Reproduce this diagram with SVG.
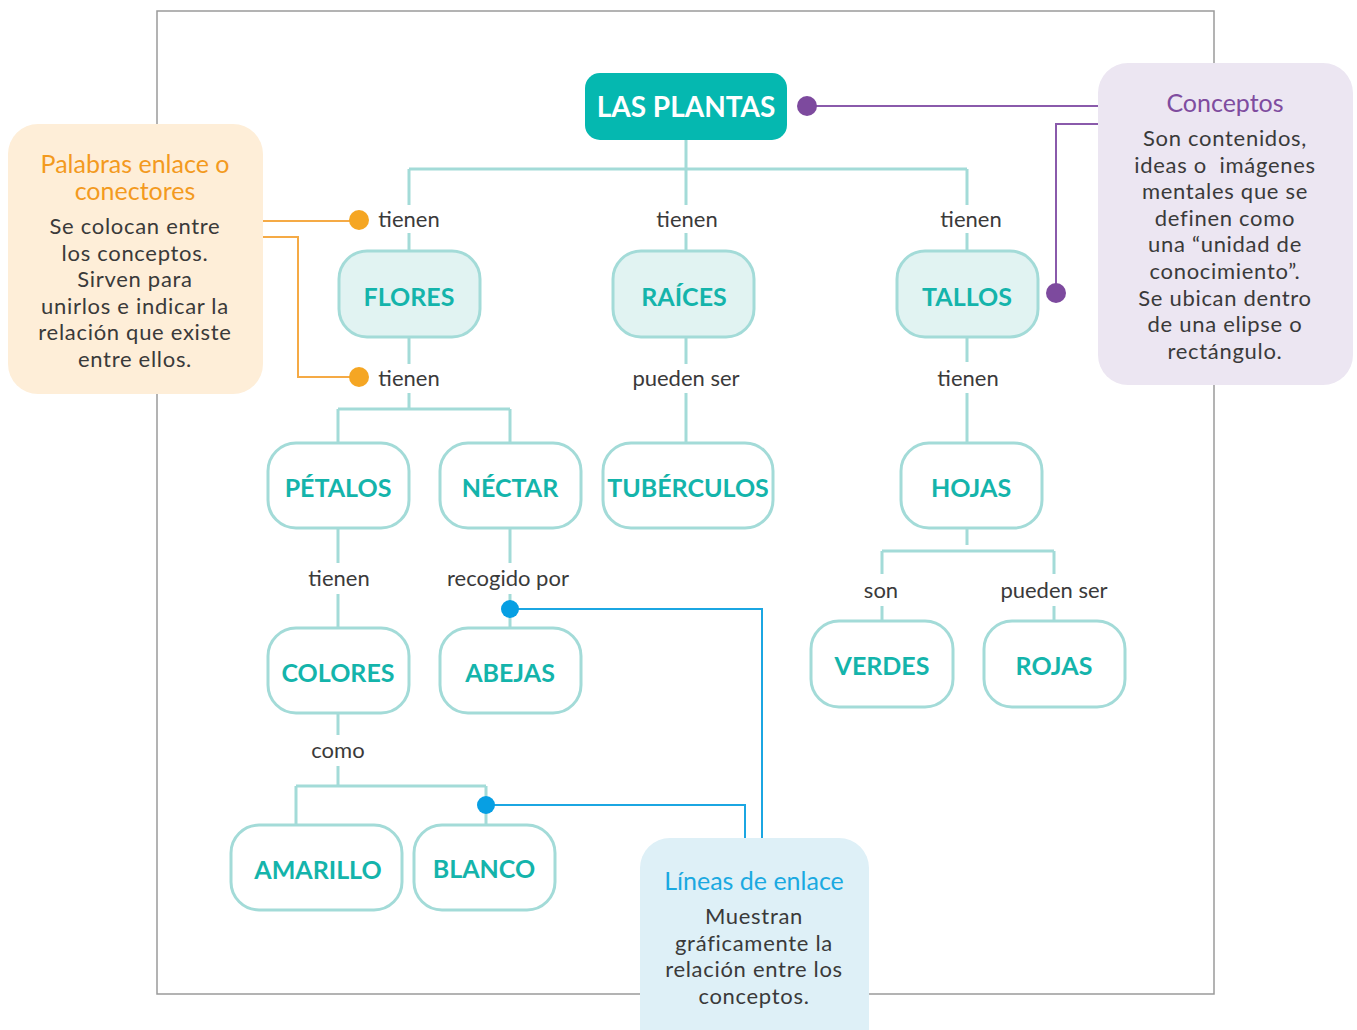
<svg xmlns="http://www.w3.org/2000/svg" width="1357" height="1030" viewBox="0 0 1357 1030">
<style>
.frame{fill:none;stroke:#9a9a9a;stroke-width:1.5}
.ln{stroke:#a3dbd8;stroke-width:3;fill:none}
.root{fill:#05b8b0}
.rootT{font-family:Lato,"Liberation Sans",sans-serif;font-weight:700;font-size:28px;fill:#fff;text-anchor:middle}
.n1{fill:#e1f3f2;stroke:#a3dbd8;stroke-width:3}
.n2{fill:#fff;stroke:#a3dbd8;stroke-width:3}
.nt{font-family:Lato,"Liberation Sans",sans-serif;font-weight:700;font-size:25px;fill:#14b4ab;text-anchor:middle}
.lbl{font-family:Lato,"Liberation Sans",sans-serif;font-size:22px;fill:#3a3a3a;text-anchor:middle}
.body{font-family:Lato,"Liberation Sans",sans-serif;font-size:22px;letter-spacing:0.7px;fill:#3a3a3a;text-anchor:middle}
.ttl{font-family:Lato,"Liberation Sans",sans-serif;font-size:25px;text-anchor:middle}
.or{stroke:#f5aa45;stroke-width:2;fill:none}
.pu{stroke:#8a5aab;stroke-width:2;fill:none}
.bl{stroke:#1ba6e2;stroke-width:2;fill:none}
</style>
<rect x="0" y="0" width="1357" height="1030" fill="#fff"/>
<rect class="frame" x="157" y="11" width="1057" height="983"/>

<g id="connectors">
  <path class="ln" d="M686 140V205M686 233V251M409 169H967M409 169V205M409 233V251M967 169V205M967 233V251"/>
  <path class="ln" d="M409 337V364M409 393V409M338 409H510M338 409V443M510 409V443"/>
  <path class="ln" d="M686 337V364M686 393V443"/>
  <path class="ln" d="M967 337V362M967 393V443"/>
  <path class="ln" d="M338 528V563M338 594V628M510 528V563M510 594V628"/>
  <path class="ln" d="M338 713V735M338 766V786M296 786H486M296 786V825M486 786V825"/>
  <path class="ln" d="M967 528V545M882 551H1054M882 551V574M882 606V621M1054 551V574M1054 606V621"/>
  <text class="lbl" x="409" y="227">tienen</text>
  <text class="lbl" x="687" y="227">tienen</text>
  <text class="lbl" x="971" y="227">tienen</text>
  <text class="lbl" x="409" y="386">tienen</text>
  <text class="lbl" x="686" y="386">pueden ser</text>
  <text class="lbl" x="968" y="386">tienen</text>
  <text class="lbl" x="339" y="586">tienen</text>
  <text class="lbl" x="508" y="586">recogido por</text>
  <text class="lbl" x="338" y="758">como</text>
  <text class="lbl" x="881" y="598">son</text>
  <text class="lbl" x="1054" y="598">pueden ser</text>
</g>

<g id="node-las-plantas"><rect class="root" x="585" y="73" width="202" height="67" rx="15"/><text class="rootT" x="686" y="117">LAS PLANTAS</text></g>
<g id="node-flores"><rect class="n1" x="339" y="251" width="141" height="86" rx="28"/><text class="nt" x="409" y="306">FLORES</text></g>
<g id="node-raices"><rect class="n1" x="613" y="251" width="141" height="86" rx="28"/><text class="nt" x="684" y="306">RAÍCES</text></g>
<g id="node-tallos"><rect class="n1" x="897" y="251" width="141" height="86" rx="28"/><text class="nt" x="967" y="306">TALLOS</text></g>
<g id="node-petalos"><rect class="n2" x="268" y="443" width="141" height="85" rx="28"/><text class="nt" x="338" y="497">PÉTALOS</text></g>
<g id="node-nectar"><rect class="n2" x="440" y="443" width="141" height="85" rx="28"/><text class="nt" x="510" y="497">NÉCTAR</text></g>
<g id="node-tuberculos"><rect class="n2" x="603" y="443" width="170" height="85" rx="28"/><text class="nt" x="688" y="497">TUBÉRCULOS</text></g>
<g id="node-hojas"><rect class="n2" x="901" y="443" width="141" height="85" rx="28"/><text class="nt" x="971" y="497">HOJAS</text></g>
<g id="node-colores"><rect class="n2" x="268" y="628" width="141" height="85" rx="28"/><text class="nt" x="338" y="682">COLORES</text></g>
<g id="node-abejas"><rect class="n2" x="440" y="628" width="141" height="85" rx="28"/><text class="nt" x="510" y="682">ABEJAS</text></g>
<g id="node-verdes"><rect class="n2" x="811" y="621" width="142" height="86" rx="28"/><text class="nt" x="882" y="675">VERDES</text></g>
<g id="node-rojas"><rect class="n2" x="984" y="621" width="141" height="86" rx="28"/><text class="nt" x="1054" y="675">ROJAS</text></g>
<g id="node-amarillo"><rect class="n2" x="231" y="825" width="171" height="85" rx="28"/><text class="nt" x="318" y="879">AMARILLO</text></g>
<g id="node-blanco"><rect class="n2" x="414" y="825" width="141" height="85" rx="28"/><text class="nt" x="484" y="878">BLANCO</text></g>

<g id="callout-palabras">
  <path class="or" d="M263 221H359M263 237H298V377H359"/>
  <circle cx="359" cy="220" r="10" fill="#f5a623"/>
  <circle cx="359" cy="377" r="10" fill="#f5a623"/>
  <rect x="8" y="124" width="255" height="270" rx="30" fill="#feeed8"/>
  <text class="ttl" fill="#f39a1e"><tspan x="135" y="173">Palabras enlace o</tspan><tspan x="135" y="200">conectores</tspan></text>
  <text class="body"><tspan x="135" y="234">Se colocan entre</tspan><tspan x="135" y="260.6">los conceptos.</tspan><tspan x="135" y="287.2">Sirven para</tspan><tspan x="135" y="313.8">unirlos e indicar la</tspan><tspan x="135" y="340.4">relación que existe</tspan><tspan x="135" y="367">entre ellos.</tspan></text>
</g>

<g id="callout-conceptos">
  <path class="pu" d="M1098 106H807M1098 124H1056V293"/>
  <circle cx="807" cy="106" r="10" fill="#7d4a9e"/>
  <circle cx="1056" cy="293" r="10" fill="#7d4a9e"/>
  <rect x="1098" y="63" width="255" height="322" rx="30" fill="#ece6f2"/>
  <text class="ttl" fill="#7f4c9f" x="1225" y="112">Conceptos</text>
  <text class="body"><tspan x="1225" y="146">Son contenidos,</tspan><tspan x="1225" y="172.6" style="white-space:pre">ideas o  imágenes</tspan><tspan x="1225" y="199.2">mentales que se</tspan><tspan x="1225" y="225.8">definen como</tspan><tspan x="1225" y="252.4">una “unidad de</tspan><tspan x="1225" y="279">conocimiento”.</tspan><tspan x="1225" y="305.6">Se ubican dentro</tspan><tspan x="1225" y="332.2">de una elipse o</tspan><tspan x="1225" y="358.8">rectángulo.</tspan></text>
</g>

<g id="callout-lineas">
  <path class="bl" d="M510 609H762V838M486 805H745V838"/>
  <circle cx="510" cy="609" r="9" fill="#079fe3"/>
  <circle cx="486" cy="805" r="9" fill="#079fe3"/>
  <rect x="640" y="838" width="229" height="220" rx="30" fill="#def0f7"/>
  <text class="ttl" fill="#1aa9e1" x="754" y="890">Líneas de enlace</text>
  <text class="body"><tspan x="754" y="924">Muestran</tspan><tspan x="754" y="950.6">gráficamente la</tspan><tspan x="754" y="977.2">relación entre los</tspan><tspan x="754" y="1003.8">conceptos.</tspan></text>
</g>
</svg>
